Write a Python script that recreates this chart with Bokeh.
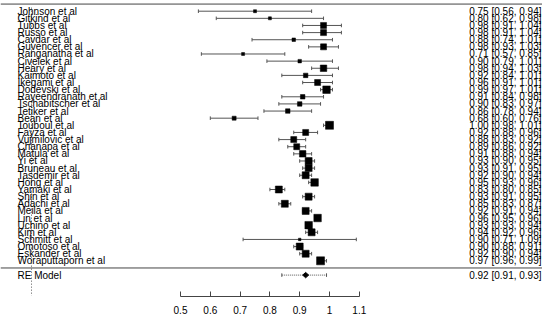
from bokeh.plotting import figure
from bokeh.models import Range1d, LinearAxis, FixedTicker, CustomJSTickFormatter, ColumnDataSource
from bokeh.core.properties import value
from bokeh.embed import file_html
from bokeh.resources import INLINE

# ---------------- data ----------------
studies = ["Johnson et al", "Gitkind et al", "Tubbs et al", "Russo et al", "Cavdar et al",
           "Guvencer et al", "Ranganatha et al", "Civelek et al", "Heary et al", "Kaimoto et al",
           "Ikegami et al", "Dodevski et al", "Rayeendranath et al", "Tschabitscher et al",
           "Tetiker et al", "Bean et al", "Touboul et al", "Fayza et al", "Vujmilovic et al",
           "Chanapa et al", "Matula et al", "Yi et al", "Bruneau et al", "Tasdemir et al",
           "Hong et al", "Yamaki et al", "Shin et al", "Adachi et al", "Meila et al", "Lin et al",
           "Uchino et al", "Kim et al", "Schmitt et al", "Omotoso et al", "Eskander et al",
           "Woraputtaporn et al"]
est = [0.75, 0.80, 0.98, 0.98, 0.88, 0.98, 0.71, 0.90, 0.98, 0.92, 0.96, 0.99, 0.91, 0.90,
       0.86, 0.68, 1.00, 0.92, 0.88, 0.89, 0.91, 0.93, 0.93, 0.92, 0.95, 0.83, 0.93, 0.85,
       0.92, 0.96, 0.93, 0.94, 0.90, 0.90, 0.92, 0.97]
lo = [0.56, 0.62, 0.91, 0.91, 0.74, 0.93, 0.57, 0.79, 0.94, 0.84, 0.91, 0.97, 0.84, 0.83,
      0.78, 0.60, 0.98, 0.88, 0.83, 0.86, 0.88, 0.90, 0.91, 0.90, 0.93, 0.80, 0.91, 0.83,
      0.91, 0.95, 0.93, 0.92, 0.71, 0.88, 0.90, 0.96]
hi = [0.94, 0.98, 1.04, 1.04, 1.01, 1.03, 0.85, 1.01, 1.03, 1.01, 1.01, 1.01, 0.98, 0.97,
      0.94, 0.76, 1.01, 0.96, 0.92, 0.92, 0.94, 0.95, 0.95, 0.94, 0.96, 0.85, 0.95, 0.87,
      0.94, 0.96, 0.94, 0.96, 1.09, 0.91, 0.94, 0.99]
weight_size = [3, 3, 6, 6, 3.5, 6, 3, 3.5, 6.5, 4.5, 6, 7.5, 4.5, 4.5, 4.5, 4, 8, 6, 6, 6, 6.5, 7,
               7, 7, 7.5, 7, 7, 7, 7, 7.5, 7.5, 7, 2.5, 7, 7, 8]
re_label = "RE Model"
re_est, re_lo, re_hi = 0.92, 0.91, 0.93
pi_lo, pi_hi = 0.84, 0.99
ref_x = 0.0
x_ticks = [0.5, 0.6, 0.7, 0.8, 0.9, 1.0, 1.1]

# ---------------- layout ----------------
k = len(studies)
rows = list(range(k, 0, -1))
FW, FH = 542, 296
ppu = 298.0
x0 = 0.5 - 180 / ppu
x1 = x0 + FW / ppu
y_bot = -4.0
y_top = k + 1 + 0.5

p = figure(frame_width=FW, frame_height=FH, output_backend="svg", toolbar_location=None,
           x_range=Range1d(x0, x1), y_range=Range1d(y_bot, y_top),
           min_border_left=0, min_border_right=0, min_border_top=0, min_border_bottom=0,
           x_axis_location=None, y_axis_location=None)
p.outline_line_color = None
p.xgrid.visible = False
p.ygrid.visible = False
p.background_fill_color = "white"

font = value("Liberation Sans")
line_col = "#555555"

# horizontal rules
p.segment(x0=[x0, x0], x1=[x1, x1], y0=[k + 1, 0], y1=[k + 1, 0], line_color="#444444", line_width=1)
# reference line (x = 0)
p.segment(x0=[ref_x], x1=[ref_x], y0=[k + 0.5], y1=[y_bot + 0.1], line_color=line_col,
          line_dash="1 2", line_width=1)

src = ColumnDataSource(dict(
    row=rows, est=est, lo=lo, hi=hi, size=weight_size, name=studies,
    cap_lo=[r - 0.25 for r in rows], cap_hi=[r + 0.25 for r in rows],
    txt=[f"{e:.2f} [{l:.2f}, {h:.2f}]" for e, l, h in zip(est, lo, hi)],
))
p.segment(x0="lo", x1="hi", y0="row", y1="row", source=src, line_color=line_col, line_width=1)
p.segment(x0="lo", x1="lo", y0="cap_lo", y1="cap_hi", source=src, line_color=line_col, line_width=1)
p.segment(x0="hi", x1="hi", y0="cap_lo", y1="cap_hi", source=src, line_color=line_col, line_width=1)
p.scatter(x="est", y="row", size="size", marker="square", source=src,
          fill_color="black", line_color="black", line_width=0.5)

lab_x = x0 + 17 / ppu
txt_x = x0 + (FW - 1) / ppu
p.text(x=lab_x, y="row", text="name", source=src, text_font=font, text_font_size="10px",
       text_baseline="middle", text_align="left", text_color="black")
p.text(x=txt_x, y="row", text="txt", source=src, text_font=font, text_font_size="10px",
       text_baseline="middle", text_align="right", text_color="black")

# RE model
re_row = -1
p.segment(x0=[pi_lo], x1=[pi_hi], y0=[re_row], y1=[re_row], line_color=line_col, line_dash="1 1")
p.segment(x0=[pi_lo, pi_hi], x1=[pi_lo, pi_hi], y0=[re_row - 0.25] * 2, y1=[re_row + 0.25] * 2,
          line_color=line_col)
p.patch(x=[re_lo, re_est, re_hi, re_est], y=[re_row, re_row + 0.38, re_row, re_row - 0.38],
        fill_color="black", line_color="black")
p.text(x=[lab_x], y=[re_row], text=[re_label], text_font=font, text_font_size="10px",
       text_baseline="middle", text_align="left", text_color="black")
p.text(x=[txt_x], y=[re_row], text=[f"{re_est:.2f} [{re_lo:.2f}, {re_hi:.2f}]"], text_font=font,
       text_font_size="10px", text_baseline="middle", text_align="right", text_color="black")

# axis
ax = LinearAxis(bounds=(x_ticks[0], x_ticks[-1]), ticker=FixedTicker(ticks=x_ticks),
                formatter=CustomJSTickFormatter(code="return tick.toFixed(1).replace(/\\.0$/, '');"))
ax.major_tick_in = 5
ax.major_tick_out = 0
ax.minor_tick_line_color = None
ax.axis_line_color = "#444444"
ax.major_tick_line_color = "#444444"
ax.major_label_standoff = 9
ax.major_label_text_font = "Liberation Sans"
ax.major_label_text_font_size = "10px"
ax.major_label_text_color = "black"
p.add_layout(ax, "below")

open("out.html", "w").write(file_html(p, INLINE))
